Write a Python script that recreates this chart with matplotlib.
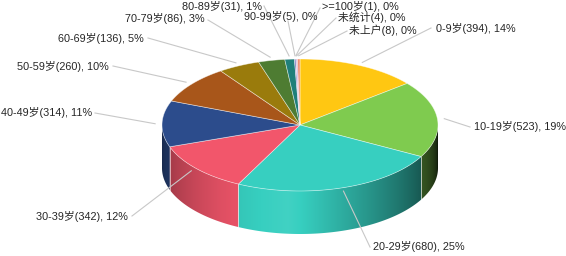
import numpy as np
import matplotlib
matplotlib.use("Agg")
import matplotlib.pyplot as plt
from matplotlib.patches import Polygon
from matplotlib.colors import to_rgb

# data (age groups, counts, shown percentages)
labels = ["0-9岁", "10-19岁", "20-29岁", "30-39岁", "40-49岁", "50-59岁", "60-69岁",
          "70-79岁", "80-89岁", "90-99岁", ">=100岁", "未统计", "未上户"]
counts = [394, 523, 680, 342, 314, 260, 136, 86, 31, 5, 1, 4, 8]
pcts = [14, 19, 25, 12, 11, 10, 5, 3, 1, 0, 0, 0, 0]
colors = ["#FFC712", "#7FCB4F", "#37CFC0", "#F2566B", "#2C4C8C", "#A8561A", "#9A7B0C",
          "#4E7C32", "#1F7F7A", "#7B7FC4", "#E15A86", "#B48CC8", "#F08C6E"]

# label layout in pixels: text x, text y, alignment, leader end x, leader end y
label_pos = [
    (436, 28, "left", 431, 28),
    (474, 127, "left", 470, 127),
    (373, 247, "left", 370, 247),
    (128, 216, "right", 132, 216),
    (92, 113, "right", 95, 113),
    (109, 66, "right", 113, 66),
    (144, 39, "right", 148, 38),
    (205, 19, "right", 208, 20),
    (262, 6, "right", 264, 6),
    (318, 16, "right", 288, 21),
    (322, 6, "left", 320, 8),
    (338, 17, "left", 336, 18),
    (349, 30, "left", 347, 31),
]

plt.rcParams["font.family"] = ["Liberation Sans", "Noto Sans CJK SC"]

fig = plt.figure(figsize=(5.66, 2.56), dpi=100)
ax = fig.add_axes([0, 0, 1, 1])
ax.set_xlim(0, 566)
ax.set_ylim(256, 0)
ax.axis("off")

cx, cy, rx, ry, depth = 300, 125, 138, 66, 43

frac = np.array(counts) / sum(counts)
edges = np.concatenate([[0], np.cumsum(frac)]) * 360


def rim(a):
    a = np.radians(a)
    return cx + rx * np.sin(a), cy - ry * np.cos(a)


# horizontal lighting of the side wall, as a function of x
gx = np.linspace(cx - rx, cx + rx, 400)
phi = 180 - np.degrees(np.arcsin(np.clip((gx - cx) / rx, -1, 1)))
light = np.interp(phi, [90, 110, 150, 185, 215, 270], [0.12, 0.35, 0.72, 1.05, 0.92, 0.55])


def side_image(c):
    c = np.array(to_rgb(c))
    dark = c[None, :] * np.minimum(light, 1)[:, None]
    lift = np.maximum(light - 1, 0)[:, None]
    img = dark + (1 - dark) * lift
    return np.clip(img[None, :, :], 0, 1)


# side walls, front half only (90..270 deg clockwise from top)
for i in range(len(counts)):
    a0, a1 = max(edges[i], 90), min(edges[i + 1], 270)
    if a1 <= a0:
        continue
    a = np.linspace(a0, a1, max(2, int(a1 - a0) + 2))
    xs, ys = rim(a)
    pts = list(zip(xs, ys)) + list(zip(xs[::-1], ys[::-1] + depth))
    poly = Polygon(pts, closed=True, facecolor="none", edgecolor="none")
    ax.add_patch(poly)
    im = ax.imshow(side_image(colors[i]), extent=[cx - rx, cx + rx, cy + ry + depth + 5, cy - ry],
                   aspect="auto", interpolation="bilinear", zorder=1)
    im.set_clip_path(poly)
    for e in (edges[i], edges[i + 1]):
        if 90 < e < 270:
            x, y = rim(e)
            ax.plot([x, x], [y, y + depth], color="white", alpha=0.5, lw=0.5, zorder=1.5)

ax.set_xlim(0, 566)
ax.set_ylim(256, 0)

# top faces
for i in range(len(counts)):
    a = np.linspace(edges[i], edges[i + 1], max(2, int(edges[i + 1] - edges[i]) + 2))
    xs, ys = rim(a)
    pts = [(cx, cy)] + list(zip(xs, ys))
    ax.add_patch(Polygon(pts, closed=True, facecolor=colors[i], edgecolor=(1, 1, 1, 0.55),
                         lw=0.5, zorder=2))

# labels and leader lines
for i in range(len(counts)):
    mid = (edges[i] + edges[i + 1]) / 2
    mx, my = rim(mid)
    sx, sy = cx + 1.05 * (mx - cx), cy + 1.05 * (my - cy)
    tx, ty, ha, ex, ey = label_pos[i]
    ax.plot([sx, ex], [sy, ey], color="#c8c8c8", lw=0.8, zorder=3)
    ax.text(tx, ty, f"{labels[i]}({counts[i]}), {pcts[i]}%", ha=ha, va="center",
            fontsize=7.8, color="#262626", zorder=4)

fig.savefig("out.png", dpi=100)
